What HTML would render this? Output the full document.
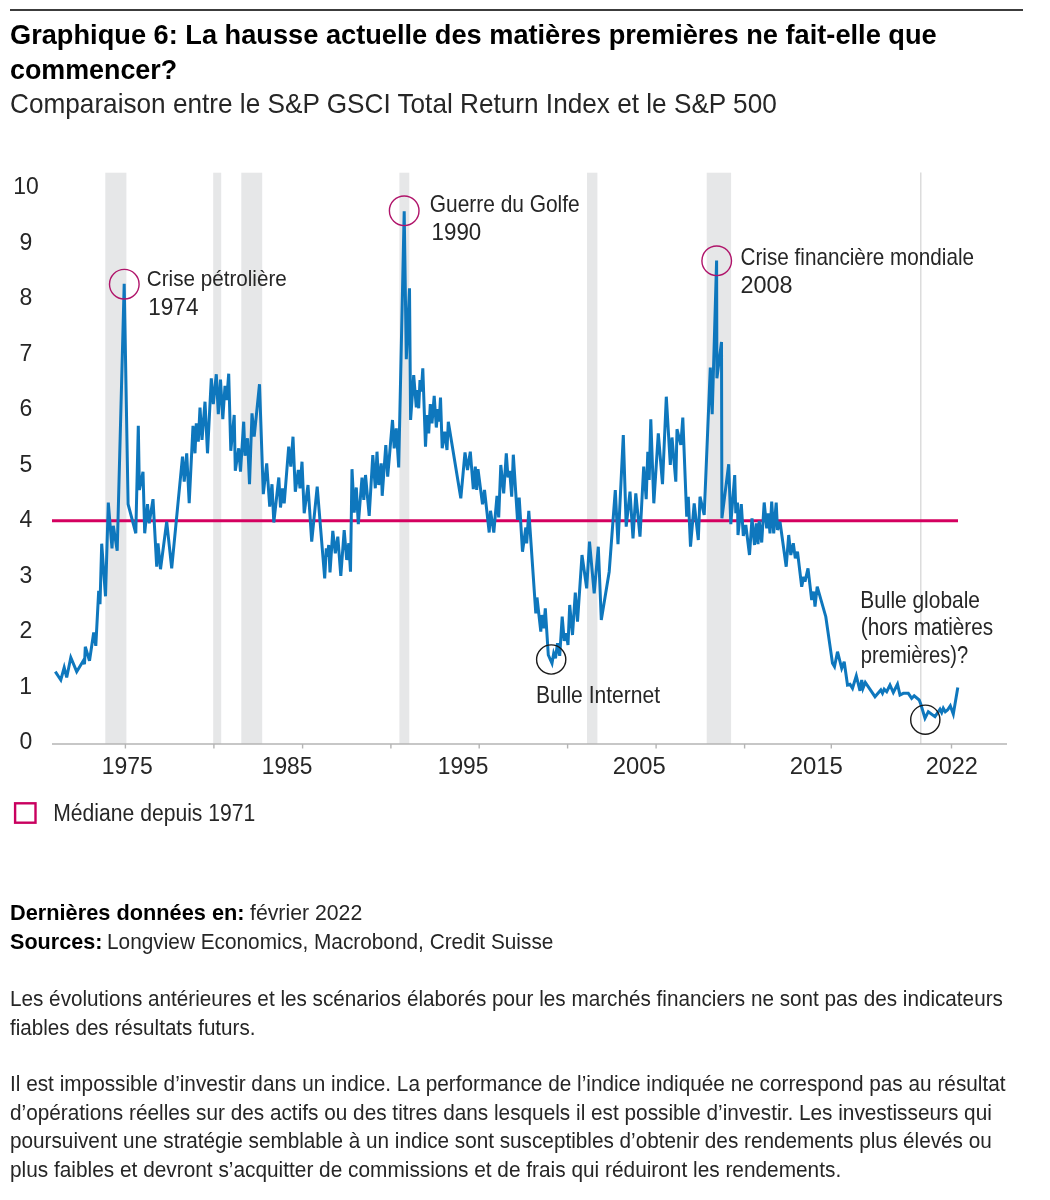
<!DOCTYPE html>
<html lang="fr">
<head>
<meta charset="utf-8">
<title>Graphique 6</title>
<style>
html,body{margin:0;padding:0;background:#fff;}
body{width:1050px;height:1200px;position:relative;overflow:hidden;font-family:"Liberation Sans",sans-serif;color:#262626;}
.rule{position:absolute;left:10px;top:9px;width:1013px;height:2px;background:#3c3c3c;}
.tx{position:absolute;white-space:nowrap;margin:0;display:block;transform-origin:0 0;}
h1,p{margin:0;font-size:inherit;font-weight:inherit;}
svg{position:absolute;left:0;top:160px;}
svg text{font-family:"Liberation Sans",sans-serif;font-size:23px;fill:#262626;}
.legend-box{position:absolute;left:14px;top:802.5px;width:18.5px;height:17.5px;border:2px solid #c20f68;}
</style>
</head>
<body>
<div class="rule"></div>
<h1><span class="tx" style="left:10.13px;top:17.30px;font-size:28.5px;line-height:34px;font-weight:bold;color:#000;transform:scaleX(0.9544)">Graphique 6: La hausse actuelle des matières premières ne fait-elle que</span>
<span class="tx" style="left:10.06px;top:51.80px;font-size:28.5px;line-height:34px;font-weight:bold;color:#000;transform:scaleX(0.9419)">commencer?</span></h1>
<p><span class="tx" style="left:10.11px;top:86.60px;font-size:28px;line-height:34px;font-weight:normal;transform:scaleX(0.9348)">Comparaison entre le S&amp;P GSCI Total Return Index et le S&amp;P 500</span></p>

<svg width="1050" height="700" viewBox="0 160 1050 700">
<g id="bands">
<rect x="105.3" y="172.7" width="21.1" height="571.3" fill="#e6e7e8"/>
<rect x="213.2" y="172.7" width="8.0" height="571.3" fill="#e6e7e8"/>
<rect x="241.3" y="172.7" width="20.9" height="571.3" fill="#e6e7e8"/>
<rect x="399.4" y="172.7" width="9.9" height="571.3" fill="#e6e7e8"/>
<rect x="587.0" y="172.7" width="10.4" height="571.3" fill="#e6e7e8"/>
<rect x="706.7" y="172.7" width="24.4" height="571.3" fill="#e6e7e8"/>
<rect x="920" y="172.5" width="1.5" height="571.5" fill="#dcdcdc"/>
</g>
<g id="axis" stroke="#b4b4b4" stroke-width="1.4" fill="none">
<line x1="52" y1="744" x2="1007" y2="744"/>
<line x1="125.4" y1="744" x2="125.4" y2="748.5"/>
<line x1="213.9" y1="744" x2="213.9" y2="748.5"/>
<line x1="302.6" y1="744" x2="302.6" y2="748.5"/>
<line x1="390.9" y1="744" x2="390.9" y2="748.5"/>
<line x1="479.2" y1="744" x2="479.2" y2="748.5"/>
<line x1="567.6" y1="744" x2="567.6" y2="748.5"/>
<line x1="656.1" y1="744" x2="656.1" y2="748.5"/>
<line x1="744.6" y1="744" x2="744.6" y2="748.5"/>
<line x1="831.3" y1="744" x2="831.3" y2="748.5"/>
<line x1="951.5" y1="744" x2="951.5" y2="748.5"/>
</g>
<line x1="52" y1="520.8" x2="958" y2="520.8" stroke="#d4005f" stroke-width="3"/>
<polyline fill="none" stroke="#0e77bd" stroke-width="3" stroke-linejoin="miter" stroke-miterlimit="4" points="55.3,671.7 60.8,680.0 64.2,667.5 66.7,677.5 70.8,657.5 76.7,671.7 83.3,660.8 84.5,664.2 85.3,646.7 89.5,660.8 93.7,632.5 95.8,645.8 98.7,590.8 100.0,604.2 101.7,543.7 105.5,596.3 108.3,502.5 112.0,548.3 113.3,525.8 117.2,550.8 124.2,283.7 128.1,504.2 135.8,533.3 138.3,425.8 139.4,490.0 143.0,471.7 144.7,533.3 147.5,504.2 149.2,523.3 153.0,499.2 156.7,566.7 158.0,543.3 160.5,569.2 166.7,521.7 171.7,568.3 182.5,456.7 184.2,481.7 186.7,453.3 189.2,503.3 193.0,425.8 195.0,453.3 196.3,423.3 198.3,441.7 200.0,407.5 202.0,440.0 205.0,401.7 207.5,453.3 211.3,378.3 213.3,404.2 216.3,374.2 218.3,414.2 220.5,379.7 222.8,419.2 225.0,385.8 226.7,400.0 228.7,373.7 230.8,450.8 234.2,415.0 235.3,470.8 238.7,448.3 240.5,471.7 243.7,421.7 245.0,455.8 247.5,438.3 249.5,484.2 252.0,413.3 254.2,436.7 259.5,384.2 263.3,494.2 266.7,463.3 269.7,506.7 272.0,484.2 273.8,522.5 278.8,477.5 280.5,507.5 282.5,488.3 284.2,503.3 288.7,446.7 290.8,466.7 293.0,436.7 295.3,491.7 298.3,470.0 300.0,488.3 302.0,461.7 304.2,513.3 308.0,485.0 311.7,541.7 317.2,486.7 324.7,578.3 326.3,548.3 327.5,556.7 328.7,545.0 330.0,572.5 332.8,530.8 335.3,553.3 337.8,536.7 340.8,575.8 344.2,530.0 346.7,560.0 348.8,543.3 350.5,571.7 352.0,469.2 354.2,512.5 356.3,487.5 358.3,524.2 362.0,477.5 363.8,500.0 365.5,475.0 369.2,515.8 372.8,455.0 375.3,488.3 377.0,451.7 378.7,485.0 381.2,463.3 382.2,495.8 385.8,445.0 387.7,476.7 392.5,420.0 394.2,448.3 396.3,428.3 398.7,467.5 404.2,211.3 406.3,359.2 409.5,288.3 410.6,420.0 413.7,375.0 416.3,407.5 417.5,390.0 418.7,408.3 420.0,380.0 421.3,391.7 422.8,368.3 425.5,446.7 427.0,415.0 428.7,433.3 430.3,404.2 432.0,423.3 434.2,395.8 436.3,427.5 438.0,409.2 439.2,421.7 440.5,397.5 442.2,448.3 444.7,431.7 447.0,450.0 448.3,421.7 460.8,498.3 465.0,452.5 467.5,470.0 470.3,451.7 473.3,489.2 475.3,466.7 476.7,490.0 478.0,469.2 482.5,504.2 484.5,490.0 489.2,532.5 490.5,510.8 493.8,532.5 497.0,495.8 498.7,517.5 500.8,465.0 503.7,493.3 506.3,453.3 508.0,477.5 509.7,470.8 511.7,496.7 513.3,454.7 517.5,520.0 519.2,497.5 522.5,551.7 525.8,527.5 526.7,543.3 528.8,510.8 535.8,613.3 537.0,597.5 540.8,631.7 541.7,615.0 543.7,628.3 545.3,608.3 548.3,655.0 552.0,663.3 553.7,653.3 555.5,658.3 557.5,643.3 559.7,655.8 562.2,616.7 564.2,640.8 566.3,633.3 568.0,645.0 569.7,605.0 572.5,635.0 575.3,592.5 577.5,621.7 582.0,555.0 586.7,588.3 589.5,541.7 594.2,593.3 598.3,546.7 601.3,620.0 609.2,571.7 615.3,490.0 618.0,544.2 623.3,435.0 626.2,526.7 630.0,491.7 633.0,538.3 635.8,493.3 640.0,536.7 643.7,466.7 646.2,499.2 647.8,451.7 649.2,480.0 650.8,419.2 653.8,503.3 658.3,433.3 662.5,484.2 666.3,396.7 670.3,465.0 672.0,437.5 675.8,481.7 677.0,429.2 680.8,445.0 682.8,417.5 686.7,516.7 688.3,496.7 690.5,546.7 694.2,503.3 698.3,540.0 700.0,496.7 704.2,515.0 710.3,367.5 712.2,414.2 716.6,260.5 716.9,378.3 721.5,342.0 721.9,518.3 728.7,464.2 730.8,524.2 734.7,475.0 735.8,513.3 737.5,502.5 738.0,535.0 741.3,504.2 743.3,535.8 745.8,525.0 749.5,555.0 752.0,518.3 754.5,545.0 756.3,523.3 758.0,544.2 759.2,520.8 761.7,542.5 764.2,502.5 766.7,528.3 768.3,513.3 770.0,533.3 771.7,501.7 773.7,533.3 776.2,502.5 777.5,530.0 780.0,521.7 786.2,566.7 788.7,535.0 790.8,555.0 793.3,543.3 795.3,558.3 797.5,551.7 801.7,586.7 803.7,576.7 805.0,581.7 808.0,568.3 811.7,600.0 813.7,591.7 815.0,606.7 817.2,586.7 825.8,616.7 832.5,663.3 834.5,666.7 837.5,651.7 841.7,668.3 844.2,661.7 847.5,685.0 850.0,684.2 852.5,688.3 856.3,675.8 860.0,690.8 861.7,680.0 863.0,688.3 865.3,682.5 875.0,696.7 880.8,690.0 882.5,693.3 884.2,689.2 886.7,691.7 890.0,685.0 893.3,692.5 897.5,684.2 900.0,695.0 903.3,693.3 908.3,693.3 911.7,698.3 914.2,695.8 919.2,700.0 920.8,704.2 925.0,718.3 928.3,711.7 935.0,716.7 940.0,709.2 941.7,712.5 943.3,708.3 945.3,711.7 947.5,710.0 950.3,705.8 953.3,714.2 957.8,687.5"/>
<g fill="none" stroke-width="1.4">
<circle cx="124.3" cy="284.2" r="14.8" stroke="#b0146a"/>
<circle cx="404.2" cy="210.8" r="14.8" stroke="#b0146a"/>
<circle cx="716.7" cy="260.8" r="14.8" stroke="#b0146a"/>
<circle cx="551.2" cy="659.5" r="14.6" stroke="#1a1a1a"/>
<circle cx="925.3" cy="719.7" r="14.6" stroke="#1a1a1a"/>
</g>
<rect x="15.1" y="803.3" width="20.4" height="19.4" fill="none" stroke="#c9005f" stroke-width="2.4"/>
<g id="ylabels">
<text transform="translate(13.25 194.4) scale(0.9982 1)">10</text>
<text transform="translate(19.52 249.9) scale(1.0000 1)">9</text>
<text transform="translate(19.46 305.3) scale(1.0000 1)">8</text>
<text transform="translate(19.46 360.8) scale(1.0000 1)">7</text>
<text transform="translate(19.40 416.2) scale(1.0000 1)">6</text>
<text transform="translate(19.52 471.6) scale(1.0000 1)">5</text>
<text transform="translate(19.59 527.1) scale(1.0000 1)">4</text>
<text transform="translate(19.52 582.6) scale(1.0000 1)">3</text>
<text transform="translate(19.46 638.0) scale(1.0000 1)">2</text>
<text transform="translate(19.15 693.5) scale(1.0000 1)">1</text>
<text transform="translate(19.46 748.9) scale(1.0000 1)">0</text>
</g>
<g id="xlabels">
<text transform="translate(101.65 773.9) scale(0.9979 1)">1975</text>
<text transform="translate(261.77 773.9) scale(0.9897 1)">1985</text>
<text transform="translate(437.77 773.9) scale(0.9897 1)">1995</text>
<text transform="translate(612.84 773.9) scale(1.0341 1)">2005</text>
<text transform="translate(789.63 773.9) scale(1.0422 1)">2015</text>
<text transform="translate(925.65 773.9) scale(1.0204 1)">2022</text>
</g>
<g id="annotations">
<text transform="translate(146.79 286.2) scale(0.8980 1)">Crise pétrolière</text>
<text transform="translate(148.28 314.5) scale(0.9805 1)">1974</text>
<text transform="translate(429.78 212.0) scale(0.9099 1)">Guerre du Golfe</text>
<text transform="translate(431.60 239.8) scale(0.9707 1)">1990</text>
<text transform="translate(740.49 265.3) scale(0.9003 1)">Crise financière mondiale</text>
<text transform="translate(740.45 293.3) scale(1.0199 1)">2008</text>
<text transform="translate(535.98 703.3) scale(0.9160 1)">Bulle Internet</text>
<text transform="translate(860.19 607.8) scale(0.9099 1)">Bulle globale</text>
<text transform="translate(860.76 635.3) scale(0.9009 1)">(hors matières</text>
<text transform="translate(860.80 662.8) scale(0.8752 1)">premières)?</text>
<text transform="translate(53.28 820.6) scale(0.9183 1)">Médiane depuis 1971</text>
</g>
</svg>

<p><span class="tx" style="left:9.84px;top:898.80px;font-size:22px;line-height:28px;font-weight:bold;color:#000;transform:scaleX(0.9887)">Dernières données en:</span><span class="tx" style="left:250.46px;top:898.80px;font-size:22px;line-height:28px;font-weight:normal;transform:scaleX(0.9657)">février 2022</span></p>
<p><span class="tx" style="left:10.29px;top:927.60px;font-size:22px;line-height:28px;font-weight:bold;color:#000;transform:scaleX(0.9809)">Sources:</span><span class="tx" style="left:107.15px;top:927.60px;font-size:22px;line-height:28px;font-weight:normal;transform:scaleX(0.9457)">Longview Economics, Macrobond, Credit Suisse</span></p>
<p><span class="tx" style="left:9.75px;top:984.80px;font-size:22px;line-height:28px;font-weight:normal;transform:scaleX(0.9408)">Les évolutions antérieures et les scénarios élaborés pour les marchés financiers ne sont pas des indicateurs</span>
<span class="tx" style="left:10.37px;top:1013.50px;font-size:22px;line-height:28px;font-weight:normal;transform:scaleX(0.9382)">fiables des résultats futurs.</span></p>
<p><span class="tx" style="left:9.71px;top:1070.00px;font-size:22px;line-height:28px;font-weight:normal;transform:scaleX(0.9444)">Il est impossible d’investir dans un indice. La performance de l’indice indiquée ne correspond pas au résultat</span>
<span class="tx" style="left:9.97px;top:1098.60px;font-size:22px;line-height:28px;font-weight:normal;transform:scaleX(0.9446)">d’opérations réelles sur des actifs ou des titres dans lesquels il est possible d’investir. Les investisseurs qui</span>
<span class="tx" style="left:10.00px;top:1127.30px;font-size:22px;line-height:28px;font-weight:normal;transform:scaleX(0.9422)">poursuivent une stratégie semblable à un indice sont susceptibles d’obtenir des rendements plus élevés ou</span>
<span class="tx" style="left:10.00px;top:1156.20px;font-size:22px;line-height:28px;font-weight:normal;transform:scaleX(0.9467)">plus faibles et devront s’acquitter de commissions et de frais qui réduiront les rendements.</span></p>
</body>
</html>
